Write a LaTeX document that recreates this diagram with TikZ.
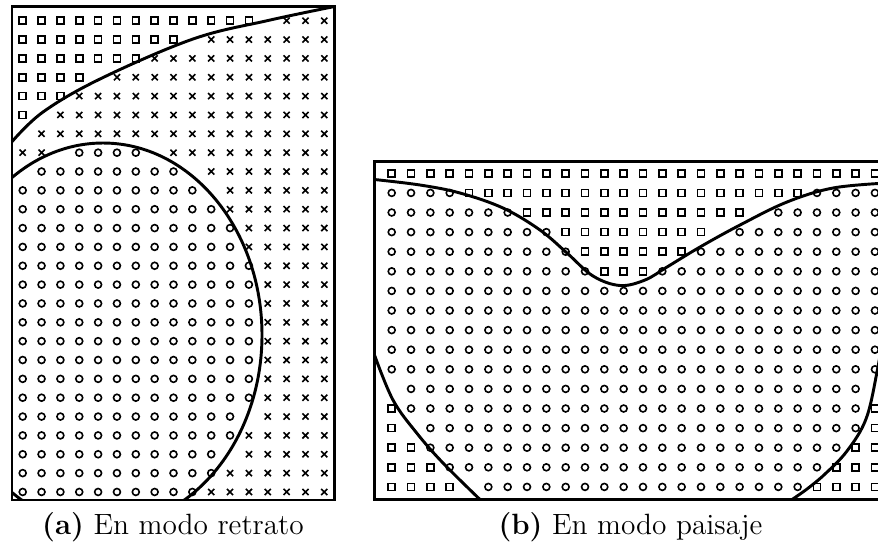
\documentclass[tikz,border=0pt]{standalone}
\usepackage{tikz}

\newcount\mkcol
% one marker: s = square, o = circle, x = cross, n = nothing
\newcommand\mkat[3]{%
  \if#1s\draw[markline] (#2,#3) ++(-1.3pt,-1.3pt) rectangle ++(2.6pt,2.6pt);\fi
  \if#1o\draw[markline] (#2,#3) circle (1.3pt);\fi
  \if#1x\draw[markline] (#2,#3) ++(-1.15pt,-1.15pt) -- ++(2.3pt,2.3pt) ++(-2.3pt,0pt) -- ++(2.3pt,-2.3pt);\fi}
% one row of markers: x0, dx, y, run list
\newcommand\mkrow[4]{%
  \global\mkcol=0
  \foreach \kind/\num in #4{%
    \foreach \k in {1,...,\num}{%
      \pgfmathsetmacro\xx{#1+#2*\the\mkcol}
      \mkat{\kind}{\xx}{#3}
      \global\advance\mkcol by 1
    }}}

\begin{document}
\begin{tikzpicture}[x=0.375pt, y=-0.375pt,
  frame/.style={line width=1.1pt},
  curve/.style={line width=1.1pt},
  markline/.style={line width=0.6pt},
  caption/.style={font=\fontsize{11}{13}\selectfont}]
\clip (0,0) rectangle (878,546);

% (a) retrato
\foreach \row [count=\r from 0] in {{s/13,n/1,x/3},{s/9,n/1,x/7},{s/7,x/10},{s/4,n/1,x/12},
  {s/3,x/14},{s/1,n/1,x/15},{n/1,x/16},{x/2,n/1,o/4,n/1,x/9},{n/1,o/8,n/1,x/7},
  {o/10,n/1,x/6},{o/11,x/6},{o/12,x/5},{o/12,x/5},{o/13,x/4},{o/13,x/4},{o/13,x/4},
  {o/13,x/4},{o/13,x/4},{o/13,x/4},{o/13,x/4},{o/13,x/4},{o/12,n/1,x/4},{o/12,x/5},
  {o/11,n/1,x/5},{o/11,x/6},{o/10,x/7}}{
  \pgfmathsetmacro\yy{20.7+18.85*\r}
  \mkrow{22.7}{18.85}{\yy}{\row}
}
\begin{scope}
  \clip (12,6.5) rectangle (334.5,500);
  \draw[curve] (103,335) ellipse (159 and 192);
\end{scope}
\draw[curve] plot[smooth, tension=0.6] coordinates {(12,141.7) (43,112) (100,79) (193,39) (268,20.5) (334.5,6.5)};
\draw[frame] (12,6.5) rectangle (334.5,500);
\node[caption] (capa) at (173,527) {\textbf{(a)} En modo retrato};

% (b) paisaje
\foreach \row [count=\r from 0] in {{s/26},{o/4,s/18,o/4},{o/7,s/12,n/1,o/6},{o/9,s/8,n/1,o/8},
  {o/10,s/6,o/10},{o/11,s/3,o/12},{o/26},{o/26},{o/26},{o/26},{o/26},{n/1,o/24,n/1},
  {s/1,o/24,s/1},{s/1,n/1,o/23,s/1},{s/2,o/22,s/2},{s/3,o/20,s/3},{s/4,n/1,o/17,s/4}}{
  \pgfmathsetmacro\yy{173.3+19.6*\r}
  \mkrow{391.7}{19.33}{\yy}{\row}
}
\draw[curve] plot[smooth, tension=0.6] coordinates {(374.5,179.5) (420,185) (460,193) (503,208) (540,230)
  (567,253) (593,276) (620,285.5) (645,280) (667,267) (700,247) (740,225) (787,202) (833,188) (887,183)};
\draw[curve] plot[smooth, tension=0.6] coordinates {(374.5,355) (393,400) (416.7,433) (443,463) (480,499.5)};
\draw[curve] plot[smooth, tension=0.6] coordinates {(885,325) (877,372) (866,419) (847,451) (825,474) (807,489) (792,499.5)};
\draw[frame] (374.5,161.5) rectangle (887,499.5);
\node[caption] (capb) at (630.5,527) {\textbf{(b)} En modo paisaje};
\end{tikzpicture}
\end{document}
